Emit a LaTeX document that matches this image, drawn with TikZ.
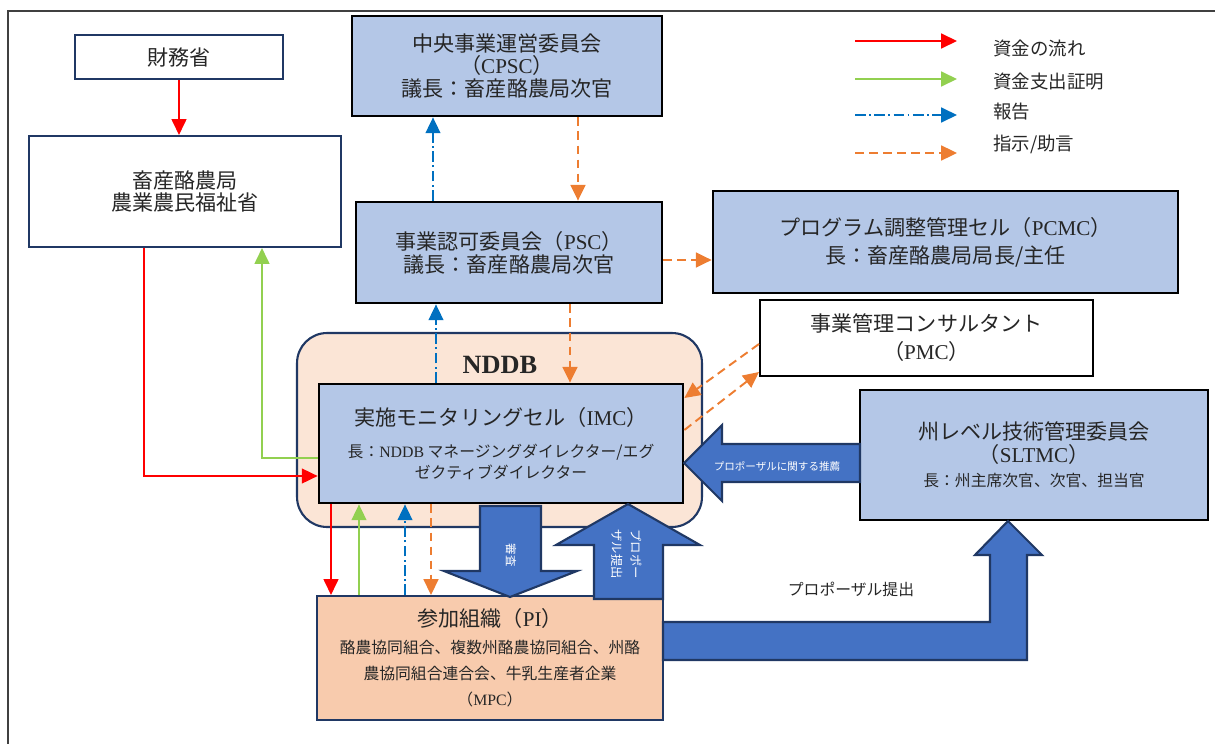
\documentclass[tikz,border=0pt]{standalone}
\usepackage{fontspec}
\setmainfont{Noto Sans CJK JP}
\newfontfamily\latinfont{Liberation Serif}
\usetikzlibrary{arrows.meta}

\definecolor{boxblue}{HTML}{B4C7E7}
\definecolor{navy}{HTML}{203864}
\definecolor{nddbfill}{HTML}{FBE5D6}
\definecolor{pifill}{HTML}{F8CBAD}
\definecolor{arrowblue}{HTML}{4472C4}
\definecolor{fundred}{HTML}{FF0000}
\definecolor{proofgreen}{HTML}{92D050}
\definecolor{reportblue}{HTML}{0070C0}
\definecolor{adviceorange}{HTML}{ED7D31}
\definecolor{txt}{HTML}{262626}

\newcommand\abbr[1]{{\latinfont #1}}
\newcommand\boxfont{\fontsize{12}{13}\selectfont}
\newcommand\subfont{\fontsize{9}{11}\selectfont}

\begin{document}
\begin{tikzpicture}[x=0.02cm, y=-0.02cm,
  every node/.style={text=txt},
  bluebox/.style={draw=black, line width=1.6pt, fill=boxblue, align=center, font=\boxfont, inner sep=0pt},
  whitebox/.style={draw=navy, line width=1.2pt, fill=white, align=center, font=\boxfont, inner sep=0pt},
  tip/.style={-{Triangle[length=9pt,width=8.5pt]}},
  fund/.style={tip, draw=fundred, line width=0.8pt},
  proof/.style={tip, draw=proofgreen, line width=0.8pt},
  report/.style={tip, draw=reportblue, line width=0.8pt, dash pattern=on 6pt off 2pt on 1pt off 2pt},
  advice/.style={tip, draw=adviceorange, line width=1.1pt, dash pattern=on 5pt off 3pt},
  blockarrow/.style={fill=arrowblue, draw=navy, line width=1.2pt, line join=miter},
  arrowtext/.style={text=white, inner sep=0pt},
  legend/.style={anchor=west, inner sep=0pt, font=\fontsize{10.5}{12}\selectfont}]

\clip (0,0) rectangle (1215,744);
\draw[draw=black!75, line width=0.8pt] (8,11) rectangle (1230,760);

% boxes
\node[whitebox, minimum width=4.16cm, minimum height=0.88cm] (mof) at (179,57) {財務省};
\node[whitebox, minimum width=6.24cm, minimum height=2.22cm] (dahd) at (185,191.5) {畜産酪農局\\農業農民福祉省};
\node[bluebox, minimum width=6.2cm, minimum height=2cm] (cpsc) at (507,66) {中央事業運営委員会\\（\abbr{CPSC}）\\議長：畜産酪農局次官};
\node[bluebox, minimum width=6.12cm, minimum height=2.02cm] (psc) at (509,252.5) {事業認可委員会（\abbr{PSC}）\\議長：畜産酪農局次官};
\node[bluebox, minimum width=9.3cm, minimum height=2.04cm] (pcmc) at (945.5,242) {プログラム調整管理セル（\abbr{PCMC}）\\[3pt]長：畜産酪農局局長/主任};
\node[whitebox, draw=black, minimum width=6.66cm, minimum height=1.52cm] (pmc) at (926.5,338) {事業管理コンサルタント\\[3pt]（\abbr{PMC}）};
\node[draw=navy, line width=1.2pt, fill=nddbfill, rounded corners=0.6cm, minimum width=8.1cm, minimum height=3.88cm] (nddb) at (499.5,430) {};
\node[font=\latinfont\bfseries\fontsize{15}{15}\selectfont] (nddbname) at (500,365) {NDDB};
\node[bluebox, minimum width=7.28cm, minimum height=2.38cm] (imc) at (501,443.5) {実施モニタリングセル（\abbr{IMC}）\\[5pt]{\subfont 長：\abbr{NDDB} マネージングダイレクター/エグ}\\[-1pt]{\subfont ゼクティブダイレクター}};
\node[bluebox, minimum width=6.96cm, minimum height=2.6cm] (sltmc) at (1034,455) {州レベル技術管理委員会\\（\abbr{SLTMC}）\\[1pt]{\subfont 長：州主席次官、次官、担当官}};
\node[whitebox, fill=pifill, minimum width=6.92cm, minimum height=2.48cm] (pi) at (490,658) {参加組織（\abbr{PI}）\\[2pt]{\subfont 酪農協同組合、複数州酪農協同組合、州酪}\\[2pt]{\subfont 農協同組合連合会、牛乳生産者企業}\\[2pt]{\subfont （\abbr{MPC}）}};

% block arrows
\draw[blockarrow] (480,506) -- (541,506) -- (541,571) -- (577,571) -- (510,597) -- (444,571) -- (480,571) -- cycle;
\node[arrowtext, rotate=-90, font=\fontsize{6.5}{7}\selectfont] (reviewtext) at (511,555) {審査};
\draw[blockarrow] (594,599) -- (663,599) -- (663,545) -- (700,545) -- (628,504) -- (556,545) -- (594,545) -- cycle;
\node[arrowtext, rotate=-90, align=left, font=\fontsize{7}{11}\selectfont] (submittext) at (627,554) {プロポー\\ザル提出};
\draw[blockarrow] (860,444) -- (722,444) -- (722,425) -- (684,463) -- (722,501) -- (722,482) -- (860,482) -- cycle;
\node[arrowtext, font=\fontsize{6}{7}\selectfont] (recommendtext) at (777,466) {プロポーザルに関する推薦};
\draw[blockarrow] (663,622) -- (990,622) -- (990,555) -- (975,555) -- (1008,521) -- (1042,555) -- (1027,555) -- (1027,660) -- (663,660) -- cycle;
\node[font=\fontsize{9}{10}\selectfont] (statetext) at (851,589) {プロポーザル提出};

% connectors
\coordinate (fundbend) at (144,476);
\coordinate (proofbend) at (262,458);
\coordinate (rep1) at (436,0);
\coordinate (rep2) at (433,0);
\coordinate (adv1) at (578,0);
\coordinate (adv2) at (570,0);
\coordinate (adv3) at (0,260);
\coordinate (fund1) at (331,0);
\coordinate (proof1) at (359,0);
\coordinate (rep3) at (405,0);
\coordinate (adv4) at (431,0);

\draw[fund] (mof.south) -- (mof.south |- dahd.north);
\draw[fund] (dahd.south -| fundbend) -- (fundbend) -- (imc.west |- fundbend);
\draw[proof] (imc.west |- proofbend) -- (proofbend) -- (dahd.south -| proofbend);
\draw[report] (imc.north -| rep1) -- (psc.south -| rep1);
\draw[report] (psc.north -| rep2) -- (cpsc.south -| rep2);
\draw[advice] (cpsc.south -| adv1) -- (psc.north -| adv1);
\draw[advice] (psc.south -| adv2) -- (imc.north -| adv2);
\draw[advice] (psc.east |- adv3) -- (pcmc.west |- adv3);
\draw[advice] ([yshift=-0.12cm]pmc.west) -- ([yshift=0.91cm]imc.east);
\draw[advice] ([yshift=0.27cm]imc.east) -- ([yshift=-0.68cm]pmc.west);
\draw[fund] (imc.south -| fund1) -- (pi.north -| fund1);
\draw[proof] (pi.north -| proof1) -- (imc.south -| proof1);
\draw[report] (pi.north -| rep3) -- (imc.south -| rep3);
\draw[advice] (imc.south -| adv4) -- (pi.north -| adv4);

% legend
\foreach \ly/\ty/\kind/\txt in {41/49/fund/資金の流れ, 79/82/proof/資金支出証明, 115/112/report/報告, 153/144/advice/{指示/助言}} {
  \coordinate (keystart\kind) at (855,\ly);
  \coordinate (keyend\kind) at (957,\ly);
  \draw[\kind] (keystart\kind) -- (keyend\kind);
  \node[legend] (key\kind) at (993,\ty) {\txt};
}
\end{tikzpicture}
\end{document}
